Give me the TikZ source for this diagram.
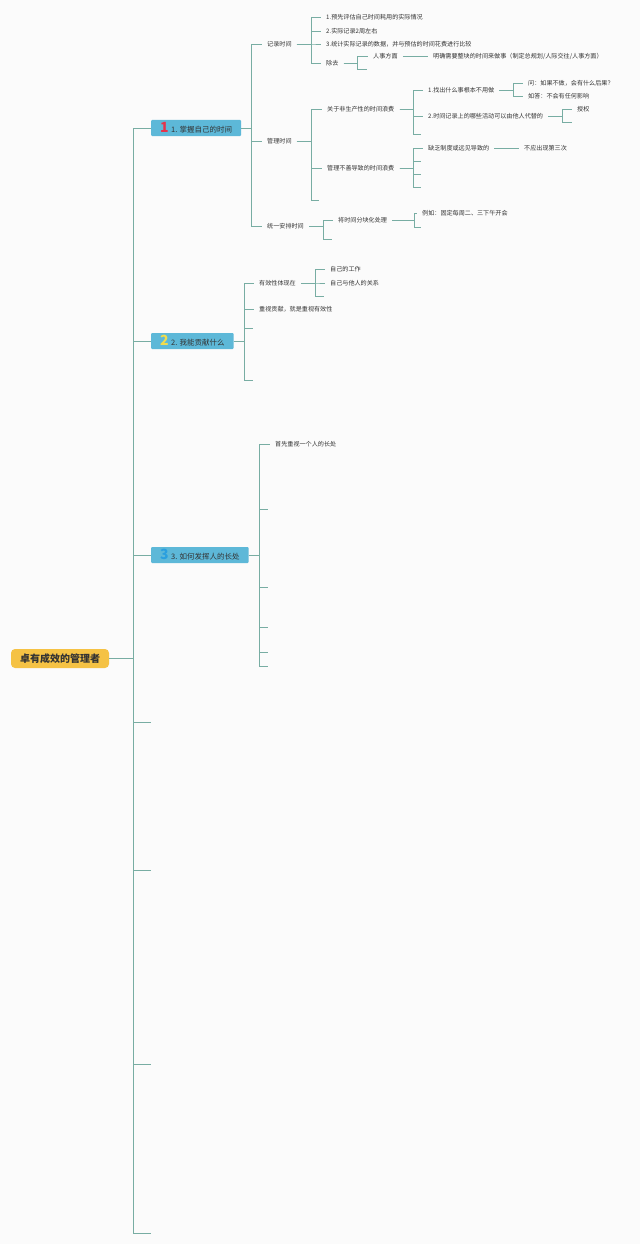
\documentclass[tikz,border=0pt]{standalone}
\usepackage{fontspec}
\setmainfont{Noto Sans CJK SC}
\definecolor{lc}{HTML}{78ADA3}
\definecolor{tc}{HTML}{333333}
\definecolor{topicfill}{HTML}{5DB8D8}
\definecolor{rootfill}{HTML}{F5C244}
\definecolor{bg}{HTML}{FBFBFB}
\definecolor{numred}{HTML}{E5334B}
\definecolor{numyellow}{HTML}{F2DC4C}
\definecolor{numblue}{HTML}{2A9FDF}
\newcommand\bignum[2]{{\color{#1}\bfseries\fontsize{14}{14}\selectfont #2}\hspace{2.5pt}}
\newcommand\branch[3]{\foreach \c in {#3} {\draw[conn] (#1.east) -- (#2,0 |- #1.east) |- (\c.west);}}
\begin{document}
\begin{tikzpicture}[x=1pt,y=-1pt,
 conn/.style={draw=lc,line width=0.8pt},
 lbl/.style={anchor=west,inner xsep=5pt,inner ysep=1pt,text=tc,font=\fontsize{6.1}{7}\selectfont},
 emp/.style={inner sep=0pt,minimum size=0pt},
 topic/.style={anchor=west,fill=topicfill,minimum height=16pt,inner xsep=9pt,inner ysep=0pt,text=tc,font=\fontsize{7.5}{8}\selectfont,rounded corners=1pt},
 rootbox/.style={fill=rootfill,rounded corners=4pt,minimum width=98pt,minimum height=19pt,inner sep=0pt,text=tc,font=\bfseries\fontsize{10}{11}\selectfont}
]
\fill[bg] (0,0) rectangle (640,1244);
\useasboundingbox (0,0) rectangle (640,1244);

% root and topics
\node[rootbox] (root) at (60,658.5) {卓有成效的管理者};
\node[topic] (t1) at (151,128) {\bignum{numred}{1}1. 掌握自己的时间};
\node[topic] (t2) at (151,341) {\bignum{numyellow}{2}2. 我能贡献什么};
\node[topic] (t3) at (151,555) {\bignum{numblue}{3}3. 如何发挥人的长处};
\node[emp] (t4) at (151,722) {};
\node[emp] (t5) at (151,870) {};
\node[emp] (t6) at (151,1064) {};
\node[emp] (t7) at (151,1233) {};

% topic 1
\node[lbl] (r1) at (262,44) {记录时间};
\node[lbl] (r2) at (262,141) {管理时间};
\node[lbl] (r3) at (262,226) {统一安排时间};

\node[lbl] (a1) at (321,17.5) {1.预先评估自己时间耗用的实际情况};
\node[lbl] (a2) at (321,31) {2.实际记录2周左右};
\node[lbl] (a3) at (321,44) {3.统计实际记录的数据，并与预估的时间花费进行比较};
\node[lbl] (a4) at (321,63) {除去};
\node[lbl] (b1) at (368,56) {人事方面};
\node[emp] (b2) at (367,69) {};
\node[lbl] (b1c) at (428,56) {明确需要整块的时间来做事（制定总规划/人际交往/人事方面）};

\node[lbl] (m1) at (322,109) {关于非生产性的时间浪费};
\node[lbl] (m2) at (322,168) {管理不善导致的时间浪费};
\node[emp] (m3) at (319,200) {};
\node[lbl] (n1) at (423,90) {1.找出什么事根本不用做};
\node[lbl] (n2) at (423,116) {2.时间记录上的哪些活动可以由他人代替的};
\node[emp] (n3) at (421,134) {};
\node[lbl] (o1) at (523,83) {问：如果不做，会有什么后果？};
\node[lbl] (o2) at (523,96) {如答：不会有任何影响};
\node[lbl] (o3) at (572,109) {授权};
\node[emp] (o4) at (572,122) {};
\node[lbl] (p1) at (423,148) {缺乏制度或远见导致的};
\node[emp] (p2) at (421,161) {};
\node[emp] (p3) at (421,174) {};
\node[emp] (p4) at (421,187) {};
\node[lbl] (p1c) at (519,148) {不应出现第三次};

\node[lbl] (q1) at (333,220) {将时间分块化处理};
\node[emp] (q2) at (332,239) {};
\node[lbl] (s1) at (417,213) {例如：固定每周二、三下午开会};
\node[emp] (s2) at (421,227) {};

% topic 2
\node[lbl] (u1) at (254,283) {有效性体现在};
\node[lbl] (u2) at (254,309) {重视贡献，就是重视有效性};
\node[emp] (u3) at (253,328) {};
\node[emp] (u4) at (253,380) {};
\node[lbl] (v1) at (325,269) {自己的工作};
\node[lbl] (v2) at (325,283) {自己与他人的关系};
\node[emp] (v3) at (324,296) {};

% topic 3
\node[lbl] (w1) at (270,444) {首先重视一个人的长处};
\node[emp] (w2) at (268,509) {};
\node[emp] (w3) at (268,587) {};
\node[emp] (w4) at (268,627) {};
\node[emp] (w5) at (268,652) {};
\node[emp] (w6) at (268,666) {};

% connectors
\branch{root}{133}{t1,t2,t3,t4,t5,t6,t7}
\branch{t1}{251}{r1,r2,r3}
\branch{r1}{311}{a1,a2,a3,a4}
\branch{a4}{357}{b1,b2}
\draw[conn] (b1.east) -- (b1c.west);
\branch{r2}{311}{m1,m2,m3}
\branch{m1}{413}{n1,n2,n3}
\branch{n1}{513}{o1,o2}
\branch{n2}{562}{o3,o4}
\branch{m2}{413}{p1,p2,p3,p4}
\draw[conn] (p1.east) -- (p1c.west);
\branch{r3}{323}{q1,q2}
\branch{q1}{414}{s1,s2}
\branch{t2}{244}{u1,u2,u3,u4}
\branch{u1}{315}{v1,v2,v3}
\branch{t3}{259}{w1,w2,w3,w4,w5,w6}
\end{tikzpicture}
\end{document}
